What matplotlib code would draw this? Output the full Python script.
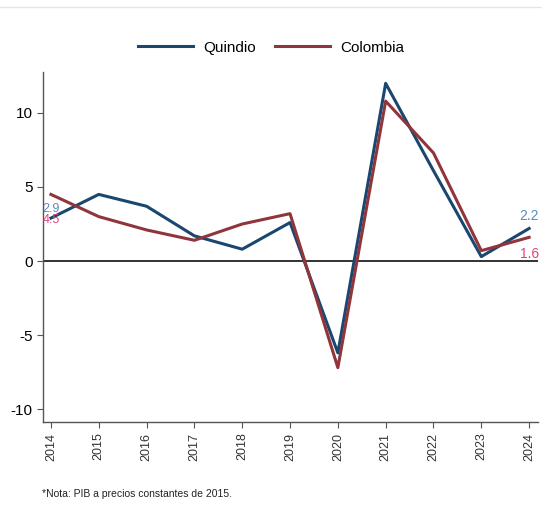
import matplotlib
matplotlib.use("Agg")
import matplotlib.pyplot as plt

plt.rcParams['font.family'] = ['Liberation Sans', 'DejaVu Sans']
plt.rcParams['axes.unicode_minus'] = False

years = [2014, 2015, 2016, 2017, 2018, 2019, 2020, 2021, 2022, 2023, 2024]
quindio = [2.9, 4.5, 3.7, 1.7, 0.8, 2.6, -6.2, 12.0, 6.1, 0.3, 2.2]
colombia = [4.5, 3.0, 2.1, 1.4, 2.5, 3.2, -7.2, 10.8, 7.3, 0.7, 1.6]

navy = '#1a476f'
maroon = '#90353b'

fig = plt.figure(figsize=(5.42, 5.29), dpi=100)
ax = fig.add_axes([0.079, 0.202, 0.914, 0.662])

ax.plot(years, quindio, color=navy, lw=2.2, label='Quindio')
ax.plot(years, colombia, color=maroon, lw=2.2, label='Colombia')
ax.axhline(0, color='#222222', lw=1.3, zorder=0)

# value labels at the ends (the 2014 pair overlaps, as in the source)
ax.text(years[0], quindio[0] + 0.2, f'{quindio[0]:.1f}', color='#5b8cc0', fontsize=9,
        ha='center', va='bottom')
ax.text(years[0], quindio[0] - 0.1, f'{colombia[0]:.1f}', color='#e0457b', fontsize=9,
        ha='center', va='center')
ax.text(years[-1], quindio[-1] + 0.4, f'{quindio[-1]:.1f}', color='#5b8cc0',
        fontsize=10, ha='center', va='bottom')
ax.text(years[-1], 0.5, f'{colombia[-1]:.1f}', color='#e0457b',
        fontsize=10, ha='center', va='center')

ax.set_xlim(2013.83, 2024.19)
ax.set_ylim(-10.88, 12.77)
ax.set_xticks(years)
ax.set_xticklabels([str(y) for y in years], rotation=90, fontsize=9, color='#333333')
ax.set_yticks([-10, -5, 0, 5, 10])
ax.tick_params(axis='y', labelsize=11, length=4, color='#555555')
ax.tick_params(axis='x', length=4, color='#555555')

for s in ['top', 'right']:
    ax.spines[s].set_visible(False)
for s in ['left', 'bottom']:
    ax.spines[s].set_color('#555555')
    ax.spines[s].set_linewidth(1)

fig.legend(loc='center', bbox_to_anchor=(0.5, 0.91), ncol=2, frameon=False,
           fontsize=11, handlelength=3.6, handletextpad=0.65, columnspacing=1.3)

fig.add_artist(plt.Line2D([0.0, 1.0], [0.987, 0.987], color='#e6e6e6', lw=1))
fig.text(0.078, 0.06, '*Nota: PIB a precios constantes de 2015.', fontsize=7.5,
         color='#222222')

fig.savefig('out.png', dpi=100)
